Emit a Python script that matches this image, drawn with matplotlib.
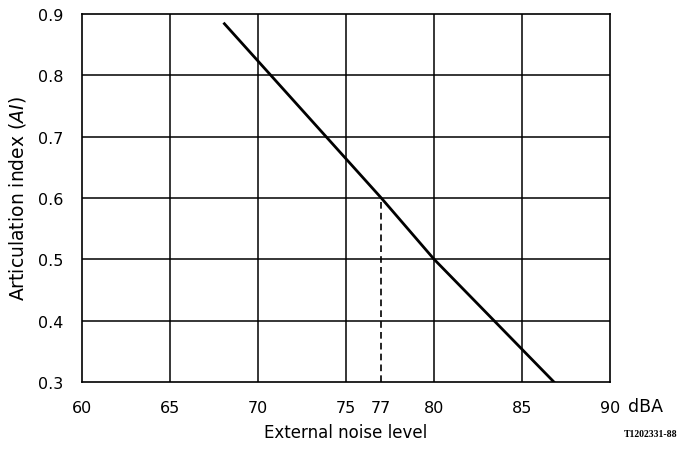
import matplotlib
matplotlib.use("Agg")
import matplotlib.pyplot as plt

# values
noise_db = [68.1, 77, 80, 86.8]
ai = [0.884, 0.6, 0.5, 0.3]
marked_db = 77
marked_ai = 0.6
x_ticks = [60, 65, 70, 75, 77, 80, 85, 90]
x_grid = [65, 70, 75, 80, 85]
y_ticks = [0.3, 0.4, 0.5, 0.6, 0.7, 0.8, 0.9]

plt.rcParams['font.family'] = ['DejaVu Sans']

fig = plt.figure(figsize=(6.81, 4.52), dpi=100)
ax = fig.add_axes([0.120, 0.153, 0.776, 0.814])

for x in x_grid:
    ax.axvline(x, color='black', lw=1.1, zorder=1)
for y in y_ticks[1:-1]:
    ax.axhline(y, color='black', lw=1.1, zorder=1)

ax.plot(noise_db, ai, color='black', lw=2.0, zorder=3)
ax.plot([marked_db, marked_db], [0.3, marked_ai], color='black', lw=1.2,
        ls=(0, (4, 2.5)), zorder=2)

ax.set_xlim(60, 90)
ax.set_ylim(0.3, 0.9)
ax.set_xticks(x_ticks)
ax.set_xticklabels([str(t) for t in x_ticks])
ax.set_yticks(y_ticks)
ax.set_yticklabels([f"{t:.1f}" for t in y_ticks])
ax.tick_params(axis='both', length=0, labelsize=11.5)
ax.tick_params(axis='x', pad=13)
ax.tick_params(axis='y', pad=13)
for s in ax.spines.values():
    s.set_linewidth(1.2)

ax.set_ylabel(r'Articulation index ($\mathit{AI}$)', fontsize=13.5, labelpad=7)
ax.set_xlabel('External noise level', fontsize=12, labelpad=6)

fig.text(0.922, 0.0995, 'dBA', fontsize=12.5, va='center', ha='left')
fig.text(0.995, 0.038, 'T1202331-88', fontsize=7, family='Liberation Serif',
         weight='bold', ha='right', va='center')

fig.savefig('out.png', dpi=100)
